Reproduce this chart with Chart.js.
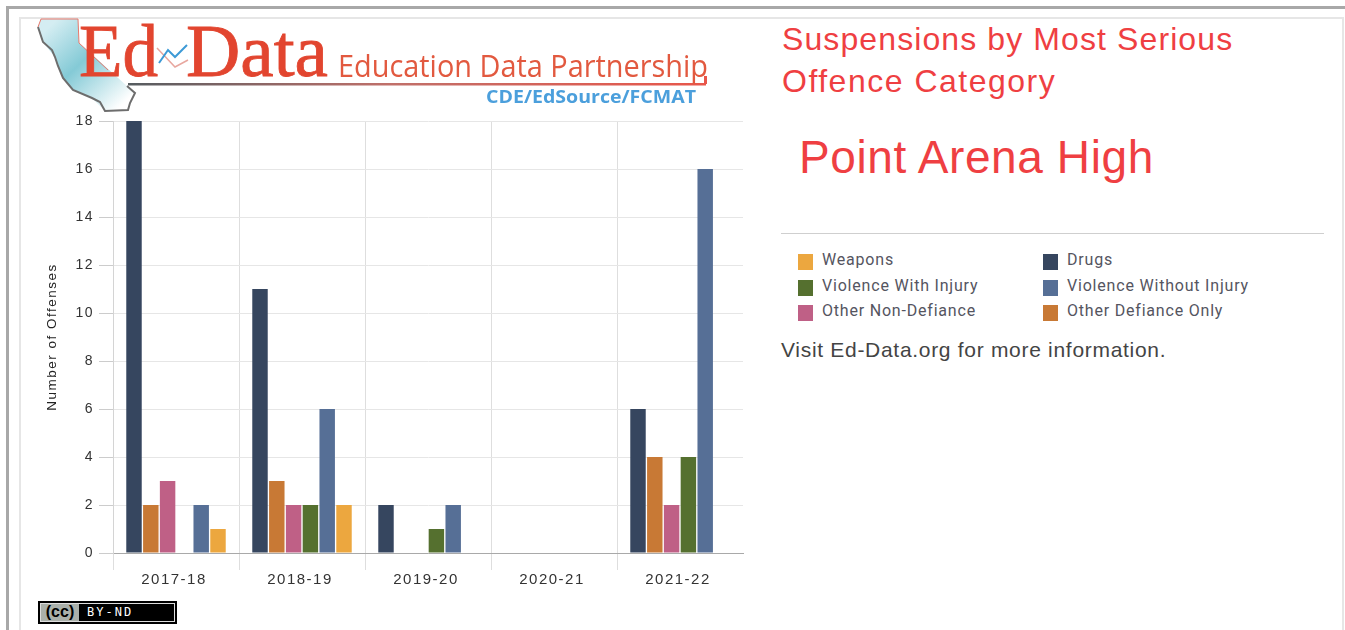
<!DOCTYPE html>
<html>
<head>
<meta charset="utf-8">
<title>Suspensions by Most Serious Offence Category</title>
<script src="https://cdn.jsdelivr.net/npm/chart.js@4/dist/chart.umd.min.js"></script>
<style>
  html, body { margin: 0; padding: 0; background: #fff; overflow: hidden; }
  body { width: 1345px; height: 630px; position: relative; font-family: "Liberation Sans", Arial, sans-serif; }
  .abs { position: absolute; white-space: nowrap; }
  #outer { left: 6px; top: 6px; width: 1345px; height: 640px; border: 3px solid #a8a8a8; border-right: 0; box-sizing: border-box; }
  #inner { left: 19px; top: 17px; width: 1325px; height: 640px; border: 2px solid #e6e6e6; box-sizing: border-box; }
  #chartBox { left: 20px; top: 100px; width: 740px; height: 500px; }
  .title { color: #ef3f42; font-size: 32px; letter-spacing: 1.1px; }
  #school { color: #ef3f42; font-size: 46px; left: 799px; top: 130px; letter-spacing: 0.6px; }
  #rule { left: 781px; top: 233px; width: 543px; height: 1px; background: #cfcfcf; }
  .swatch { position: absolute; width: 15px; height: 16px; }
  .legendText { position: absolute; font-family: Roboto, sans-serif; font-size: 16px; letter-spacing: 0.8px; color: #55555f; white-space: nowrap; }
  #visit { left: 781px; top: 338px; font-size: 21px; color: #444; letter-spacing: 0.7px; }
  #badge { left: 38px; top: 601px; width: 139px; height: 23px; background: #000; box-sizing: border-box; border: 1px solid #000; }
  #badgeIn { position: absolute; left: 1px; top: 1px; width: 135px; height: 19px; border: 1px solid #ddd; box-sizing: border-box; }
  #badgeCc { position: absolute; left: 0; top: 0; width: 38px; height: 17px; background: #aab0aa; color: #000; font: bold 16px "Liberation Sans"; line-height: 16px; text-align: center; }
  #badgeBy { position: absolute; left: 46px; top: 0; color: #fff; font: 12px "DejaVu Sans Mono", monospace; line-height: 17px; letter-spacing: 2px; }
</style>
</head>
<body>
<div id="outer" class="abs"></div>
<div id="inner" class="abs"></div>

<div id="chartBox" class="abs"><canvas id="myChart" width="740" height="500"></canvas></div>

<svg class="abs" style="left:30px;top:15px" width="700" height="105" viewBox="30 15 700 105">
  <defs>
    <linearGradient id="stateFill" x1="0.1" x2="0.9" y1="0.1" y2="0.9">
      <stop offset="0" stop-color="#d4edf2"/>
      <stop offset="0.45" stop-color="#84cad6"/>
      <stop offset="1" stop-color="#ffffff"/>
    </linearGradient>
    <linearGradient id="underline" x1="0" x2="1" y1="0" y2="0">
      <stop offset="0" stop-color="#555c60"/>
      <stop offset="0.45" stop-color="#c0706a"/>
      <stop offset="1" stop-color="#e8564a"/>
    </linearGradient>
  </defs>
  <path d="M41 19 L78 19 L79 43 L127 86 L135 93 L130 103 L128 110 L105 111 L92 98 L73 90 L63 78 L55 57 L43 42 L38 27 Z" fill="url(#stateFill)"/>
  <path d="M38 27 L41 19 L78 19 L79 43 L108 70" stroke="#e8796c" stroke-width="1" fill="none"/>
  <path d="M38 27 L43 42 L52 50 L55 57 L58 66 L63 78 L73 90 L92 98 L100 102 L105 111 L128 110 L130 103 L135 93 L127 86" stroke="#6d6d6d" stroke-width="2" fill="none"/>
  <rect x="128" y="83" width="578" height="2.5" fill="url(#underline)"/>
  <rect x="704" y="76" width="3" height="8" fill="#e8564a"/>
  <text x="79" y="76" font-family="Liberation Serif" font-size="73" fill="#e2452f" stroke="#e2452f" stroke-width="0.8" textLength="79" lengthAdjust="spacingAndGlyphs">Ed</text>
  <polyline points="157,48 175,67 188,60" fill="none" stroke="#e8a79f" stroke-width="1.5"/>
  <polyline points="159,63 168,50 175,57 187,45" fill="none" stroke="#3d9ad6" stroke-width="2"/>
  <text x="186" y="76" font-family="Liberation Serif" font-size="73" fill="#e2452f" stroke="#e2452f" stroke-width="0.8" textLength="142" lengthAdjust="spacingAndGlyphs">Data</text>
  <text x="338" y="77" font-family="Open Sans" font-size="31" fill="#e2593f" textLength="370" lengthAdjust="spacingAndGlyphs">Education Data Partnership</text>
  <text x="486" y="103" font-family="Open Sans" font-weight="700" font-size="18" fill="#4b9fdc" textLength="210" lengthAdjust="spacingAndGlyphs">CDE/EdSource/FCMAT</text>
</svg>

<div class="abs title" style="left:782px;top:21px">Suspensions by Most Serious</div>
<div class="abs title" style="left:782px;top:63px;letter-spacing:1.5px">Offence Category</div>
<div id="school" class="abs">Point Arena High</div>
<div id="rule" class="abs"></div>
<div id="legend"></div>
<div id="visit" class="abs">Visit Ed-Data.org for more information.</div>

<div id="badge" class="abs"><div id="badgeIn"><div id="badgeCc">(cc)</div><div id="badgeBy">BY-ND</div></div></div>

<script>
'use strict';

/** @desc School years on the x axis */
const YEARS = ['2017-18', '2018-19', '2019-20', '2020-21', '2021-22'];

/** @desc Number of offenses per year for every category */
const DRUGS = [18, 11, 2, 0, 6];
const OTHER_DEFIANCE = [2, 3, 0, 0, 4];
const OTHER_NON_DEFIANCE = [3, 2, 0, 0, 2];
const VIOLENCE_WITH_INJURY = [0, 2, 1, 0, 4];
const VIOLENCE_WITHOUT_INJURY = [2, 6, 2, 0, 16];
const WEAPONS = [1, 2, 0, 0, 0];

/** @desc Series in the order the bars are drawn */
const SERIES = [
  {label: 'Drugs', data: DRUGS, backgroundColor: '#36465f'},
  {label: 'Other Defiance Only', data: OTHER_DEFIANCE, backgroundColor: '#c87935'},
  {label: 'Other Non-Defiance', data: OTHER_NON_DEFIANCE, backgroundColor: '#bf6086'},
  {label: 'Violence With Injury', data: VIOLENCE_WITH_INJURY, backgroundColor: '#55702f'},
  {label: 'Violence Without Injury', data: VIOLENCE_WITHOUT_INJURY, backgroundColor: '#566f96'},
  {label: 'Weapons', data: WEAPONS, backgroundColor: '#eca73f'}
];

/** @desc Legend reads row by row, left column then right column */
const LEGEND_ORDER = ['Weapons', 'Drugs', 'Violence With Injury', 'Violence Without Injury', 'Other Non-Defiance', 'Other Defiance Only'];

const legendBox = document.getElementById('legend');
LEGEND_ORDER.forEach(function (name, i) {
  const row = Math.floor(i / 2);
  const left = i % 2 === 0 ? 798 : 1043;
  const serie = SERIES.find(function (s) { return s.label === name; });
  const swatch = document.createElement('div');
  swatch.className = 'swatch';
  swatch.style.left = left + 'px';
  swatch.style.top = (254 + row * 25.5) + 'px';
  swatch.style.background = serie.backgroundColor;
  legendBox.appendChild(swatch);
  const text = document.createElement('div');
  text.className = 'legendText';
  text.style.left = (left + 24) + 'px';
  text.style.top = (250 + row * 25.5) + 'px';
  text.textContent = name;
  legendBox.appendChild(text);
});

/** @desc Chart.js has no letter spacing option, so set it on the context */
const SPACING = {
  id: 'spacing',
  beforeDraw: function (chart) { chart.ctx.letterSpacing = '1.5px'; }
};

/** @desc The line after the last tick gets the scale context, not a tick one */
function hideLastLine(context) {
  return context.type === 'tick' ? '#dedede' : 'rgba(0,0,0,0)';
}

const OPTIONS = {
  responsive: false,
  animation: false,
  layout: {padding: {top: 21, right: 17, bottom: 0, left: 0}},
  plugins: {legend: {display: false}, tooltip: {enabled: false}},
  datasets: {bar: {categoryPercentage: 0.8, barPercentage: 0.92}},
  scales: {
    x: {
      afterFit: function (scale) { scale.height = 47; },
      grid: {color: hideLastLine, tickLength: 17, tickColor: hideLastLine},
      border: {color: '#a9a9a9'},
      ticks: {color: '#333', padding: 1, maxRotation: 0, labelOffset: -2, font: {family: 'Liberation Sans', size: 15}}
    },
    y: {
      min: 0,
      max: 18,
      afterFit: function (scale) { scale.width = 93; },
      grid: {color: '#e6e6e6', tickLength: 14, tickColor: '#cccccc'},
      border: {color: '#d4d4d4'},
      ticks: {stepSize: 2, color: '#333', padding: 5, font: {family: 'Liberation Sans', size: 14}},
      title: {
        display: true,
        text: 'Number of Offenses',
        color: '#222',
        padding: {top: 24, bottom: 0},
        font: {family: 'Liberation Sans', size: 13.5}
      }
    }
  }
};

const CTX = document.getElementById('myChart').getContext('2d');
let myChart = new Chart(CTX, {
  type: 'bar',
  data: {labels: YEARS, datasets: SERIES},
  options: OPTIONS,
  plugins: [SPACING]
});
</script>
</body>
</html>
